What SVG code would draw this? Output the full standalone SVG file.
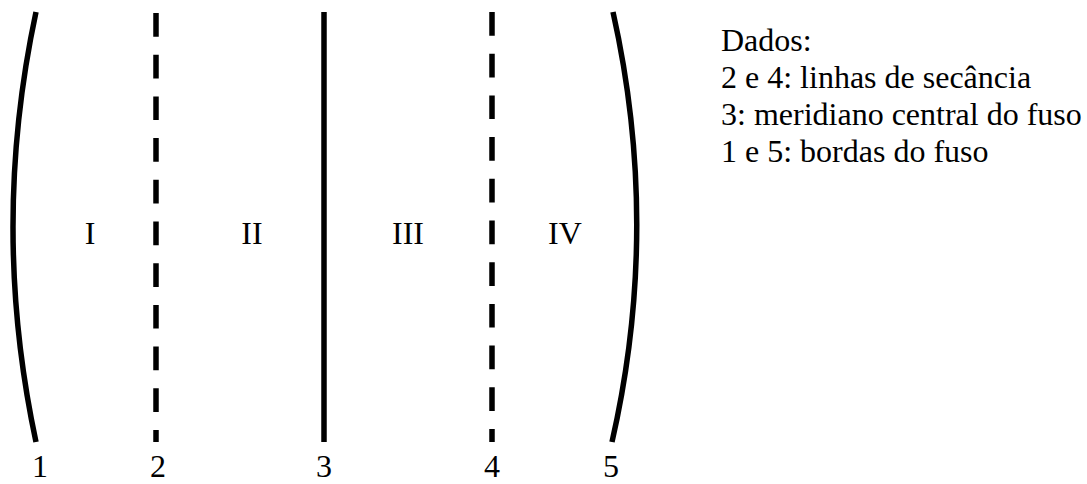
<svg xmlns="http://www.w3.org/2000/svg" width="1087" height="484" viewBox="0 0 1087 484">
<style>
.ln{fill:none;stroke:#000;stroke-width:5.5}
.dash{stroke-dasharray:23.7 18}
.t{font-family:"Liberation Serif","Times New Roman",serif;font-size:32px;fill:#000}
.c{text-anchor:middle}
</style>
<rect width="1087" height="484" fill="#fff"/>
<g id="connectors">
<path id="line1" class="ln" d="M36,12 Q-10,227 36,442"/>
<line id="line2" class="ln dash" x1="156" y1="13" x2="156" y2="442"/>
<line id="line3" class="ln" x1="324" y1="12" x2="324" y2="442"/>
<line id="line4" class="ln dash" x1="492" y1="12" x2="492" y2="442"/>
<path id="line5" class="ln" d="M613,12 Q661,227 612,442"/>
</g>
<g id="labels-bottom">
<text class="t c" x="40" y="477">1</text>
<text class="t c" x="158" y="477">2</text>
<text class="t c" x="324" y="477">3</text>
<text class="t c" x="492" y="477">4</text>
<text class="t c" x="611" y="477">5</text>
</g>
<g id="zones">
<text class="t c" x="90" y="244">I</text>
<text class="t c" x="252" y="244">II</text>
<text class="t c" x="408" y="244">III</text>
<text class="t c" x="565" y="244">IV</text>
</g>
<g id="legend">
<text class="t" x="721" y="51">Dados:</text>
<text class="t" x="721" y="88">2 e 4: linhas de secância</text>
<text class="t" x="721" y="125">3: meridiano central do fuso</text>
<text class="t" x="721" y="162">1 e 5: bordas do fuso</text>
</g>
</svg>
